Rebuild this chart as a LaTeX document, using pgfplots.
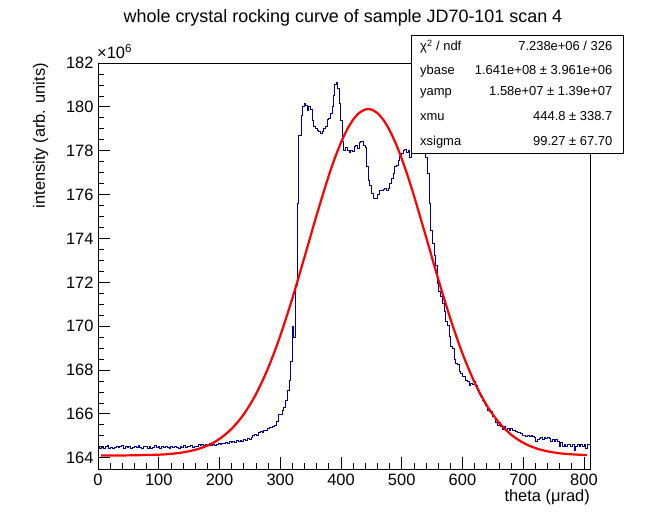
\documentclass[border=0pt]{standalone}
\usepackage{pgfplots}
\pgfplotsset{compat=1.18}
\usepackage{fontspec}
\setmainfont{Liberation Sans}
\definecolor{histblue}{RGB}{0,0,153}
\definecolor{fitred}{RGB}{255,0,0}
\begin{document}
\begin{tikzpicture}[x=1bp,y=1bp]
\useasboundingbox (0,0) rectangle (656,522);
\begin{axis}[
  at={(98bp,53bp)}, anchor=south west,
  width=492bp, height=406bp, scale only axis,
  xmin=0, xmax=810, ymin=163.485, ymax=182,
  xtick={0,100,...,800}, minor x tick num=4,
  ytick={164,166,...,182}, minor y tick num=3,
  xtick pos=bottom, ytick pos=left,
  tick align=inside,
  major tick length=12bp, minor tick length=6bp,
  every tick/.style={black, line width=0.7bp},
  axis line style={line width=0.8bp},
  scaled ticks=false,
  /pgf/number format/assume math mode=true,
  /pgf/number format/1000 sep={},
  tick label style={font=\fontsize{16.5}{19}\selectfont},
  xticklabel style={yshift=-2bp},
  yticklabel style={xshift=-1bp},
]
\addplot[histblue, line width=1bp, const plot mark left] coordinates {
(0,164.52)(3,164.44)(6,164.47)(9,164.40)(12,164.50)(15,164.55)(18,164.43)(21,164.48)(24,164.41)(27,164.47)
(30,164.52)(33,164.45)(36,164.49)(39,164.56)(42,164.44)(45,164.50)(48,164.46)(51,164.53)(54,164.42)(57,164.48)
(60,164.51)(63,164.45)(66,164.55)(69,164.47)(72,164.41)(75,164.49)(78,164.53)(81,164.44)(84,164.50)(87,164.40)
(90,164.48)(93,164.57)(96,164.46)(99,164.51)(102,164.43)(105,164.49)(108,164.45)(111,164.52)(114,164.47)(117,164.42)
(120,164.50)(123,164.46)(126,164.53)(129,164.48)(132,164.44)(135,164.51)(138,164.47)(141,164.55)(144,164.45)(147,164.52)
(150,164.49)(153,164.56)(156,164.47)(159,164.53)(162,164.50)(165,164.58)(168,164.55)(171,164.62)(174,164.54)(177,164.60)
(180,164.57)(183,164.63)(186,164.56)(189,164.60)(192,164.55)(195,164.62)(198,164.64)(201,164.60)(204,164.67)(207,164.63)
(210,164.70)(213,164.66)(216,164.72)(219,164.68)(222,164.74)(225,164.71)(228,164.78)(231,164.75)(234,164.80)(237,164.76)
(240,164.83)(243,164.80)(246,164.88)(249,164.85)(252,164.92)(255,165.00)(258,165.05)(261,165.03)(264,165.15)(267,165.20)
(270,165.17)(273,165.26)(276,165.24)(279,165.32)(282,165.36)(285,165.40)(288,165.42)(291,165.45)(294,165.64)(297,165.95)
(303.2,166.15)(306.2,166.30)(308.2,166.63)(311.2,167.05)(314.8,167.54)(317.7,168.38)(319.9,169.97)(321.5,169.50)
(325.9,171.87)(328.1,175.60)(330.8,178.70)(334.3,179.60)(336.6,180.00)(339.7,180.15)(342.4,180.08)(344.6,179.85)
(347.3,180.00)(350.1,179.88)(352.8,179.39)(355.5,179.09)(358.3,179.01)(361.0,178.94)(363.8,178.86)(366.6,178.78)
(369.3,178.86)(372.0,179.01)(374.7,179.09)(377.5,179.42)(380.2,179.47)(382.9,179.70)(385.8,180.00)(387.4,180.53)
(390.1,181.03)(392.9,181.09)(395.1,180.84)(397.3,180.15)(400.0,179.39)(402.7,178.40)(404.9,178.02)(407.1,178.15)
(410.4,178.02)(413.6,177.90)(416.5,177.99)(419.2,177.95)(421.9,178.18)(424.7,178.25)(427.4,178.10)(430.1,178.36)
(432.9,178.40)(436.7,178.25)(440.1,178.15)(442.3,177.26)(445.0,176.66)(447.7,176.43)(450.5,176.05)(453.2,175.82)
(457.6,175.82)(459.8,176.02)(464.1,176.20)(469.7,176.23)(472.4,176.28)(475.1,176.20)(477.9,176.28)(480.6,176.51)
(483.3,176.73)(486.1,176.96)(488.8,177.26)(491.6,177.34)(494.4,177.57)(497.1,177.75)(499.8,177.87)(502.6,177.99)
(505.3,178.06)(508.0,177.90)(510.8,178.02)(513.5,177.69)(516,178.20)(519,178.50)(522,178.70)(525,178.90)
(528,179.00)(531,178.90)(534,178.80)(537,178.60)(539.9,177.70)(542.0,176.96)(545.3,175.60)(548.1,174.37)
(550.9,173.78)(553.5,173.24)(555.8,172.78)(558.5,171.95)(561.3,171.57)(564.6,171.34)(567.4,171.04)(570.3,170.66)
(572.8,170.20)(575.0,170.05)(578.3,169.52)(581.0,169.06)(583.8,168.98)(586.6,168.48)(589.3,168.30)(592.0,168.23)
(594.8,167.92)(597.5,167.85)(600.2,167.72)(603.0,167.69)(605.7,167.51)(608.4,167.47)(611.2,167.31)(614.0,167.39)
(616.7,167.36)(619.5,167.47)(622.2,167.27)(624.9,167.06)(627.7,166.86)(630.4,166.78)(633.1,166.63)(635.9,166.48)
(638.6,166.36)(641.4,166.17)(644.2,166.10)(646.9,166.10)(649.6,165.87)(652.4,165.84)(655.1,165.60)(657.8,165.49)
(660.6,165.60)(663.4,165.44)(666.1,165.29)(668.8,165.41)(671.6,165.29)(674.3,165.34)(677.0,165.26)(679.8,165.34)
(682.6,165.23)(685.3,165.26)(688.1,165.19)(690.8,165.14)(696.3,165.11)(699.1,164.99)(701.9,164.99)(704.6,164.96)
(707.4,164.99)(710.2,164.96)(713.0,164.99)(715.7,164.96)(718.5,164.93)(721.0,164.73)(723.7,164.81)(726.4,164.88)
(729.1,164.93)(731.9,164.84)(734.6,164.90)(737.3,164.88)(740.2,164.93)(742.9,164.88)(745.6,164.73)(748.4,164.84)
(751.1,164.73)(753.8,164.84)(756.6,164.73)(759.3,164.50)(762.0,164.69)(764.8,164.50)(767.6,164.62)(770.3,164.50)
(773.1,164.58)(775.8,164.62)(778.5,164.50)(781.3,164.62)(784.0,164.35)(786.8,164.50)(789.6,164.62)(792.3,164.50)
(795.0,164.62)(797.8,164.53)(800.5,164.62)(803.2,164.43)(805.9,164.58)(810,164.58)
};
\addplot[fitred, line width=2.2bp, smooth] coordinates {
(5,164.101)(50,164.106)(100,164.138)(120,164.175)(140,164.242)(160,164.358)(170,164.443)(185,164.614)
(200,164.855)(220,165.317)(240,165.982)(260,166.894)(280,168.083)(300,169.553)(320,171.270)(340,173.150)
(360,175.070)(380,176.868)(390,177.668)(400,178.371)(410,178.958)(420,179.415)(430,179.725)(440,179.882)
(444.8,179.900)(450,179.878)(460,179.716)(470,179.399)(480,178.937)(490,178.344)(500,177.638)(510,176.835)
(520,175.960)(540,174.076)(560,172.158)(580,170.350)(600,168.755)(620,167.429)(640,166.386)(660,165.607)
(680,165.054)(700,164.680)(720,164.439)(740,164.290)(760,164.202)(780,164.153)(805,164.120)
};
\end{axis}
% x10^6
\node[anchor=base west, inner sep=0, font=\fontsize{16.5}{19}\selectfont] at (97,463) {×10\textsuperscript{6}};
% title
\node[anchor=center, inner sep=0, font=\fontsize{18}{21}\selectfont] at (343,504) {whole crystal rocking curve of sample JD70-101 scan 4};
% axis titles
\node[rotate=90, anchor=east, inner sep=0, font=\fontsize{16.5}{19}\selectfont] at (40.5,459) {intensity (arb. units)};
\node[anchor=east, inner sep=0, font=\fontsize{16.5}{19}\selectfont] at (590,25) {theta (μrad)};
% stats box
\draw[fill=white, line width=0.8bp] (411,368.7) rectangle (623.3,487);
\begin{scope}[every node/.style={inner sep=0, font=\fontsize{13}{15}\selectfont}]
\node[anchor=mid west] at (420,474) {χ\textsuperscript{2} / ndf};
\node[anchor=mid east] at (612.5,474) {7.238e+06 / 326};
\node[anchor=mid west] at (420,450.3) {ybase};
\node[anchor=mid east] at (612.5,450.3) {1.641e+08 ± 3.961e+06};
\node[anchor=mid west] at (420,428.7) {yamp};
\node[anchor=mid east] at (612.5,428.7) {1.58e+07 ± 1.39e+07};
\node[anchor=mid west] at (420,403.7) {xmu};
\node[anchor=mid east] at (612.5,403.7) {444.8 ± 338.7};
\node[anchor=mid west] at (420,378.7) {xsigma};
\node[anchor=mid east] at (612.5,378.7) {99.27 ± 67.70};
\end{scope}
\end{tikzpicture}
\end{document}
